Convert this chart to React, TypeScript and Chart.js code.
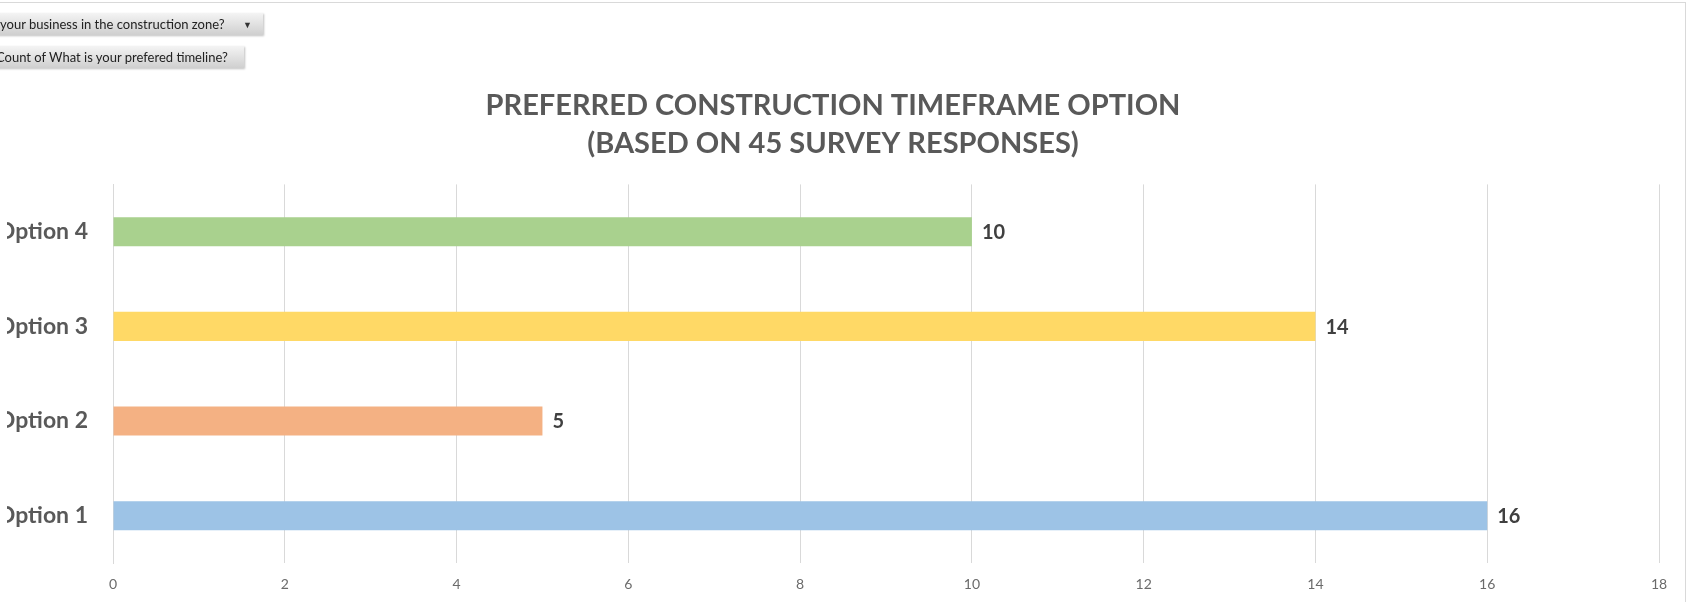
import React, { useEffect, useRef } from "react";
import { Chart, registerables } from "chart.js";

Chart.register(...registerables);

const categories = ["Option 1", "Option 2", "Option 3", "Option 4"];
const counts = [16, 5, 14, 10];
const barColors = ["#9DC3E6", "#F4B183", "#FFD966", "#A9D18E"];
const xTicks = [0, 2, 4, 6, 8, 10, 12, 14, 16, 18];
const titleLines = ["PREFERRED CONSTRUCTION TIMEFRAME OPTION", "(BASED ON 45 SURVEY RESPONSES)"];
const filterLabel = "your business in the construction zone?";
const valueLabel = "Count of What is your prefered timeline?";

const valueLabelPlugin = {
  id: "valueLabels",
  afterDatasetsDraw(chart: any) {
    const ctx = chart.ctx;
    const meta = chart.getDatasetMeta(0);
    ctx.save();
    ctx.font = "bold 20px Lato";
    ctx.fillStyle = "#404040";
    ctx.textAlign = "left";
    ctx.textBaseline = "middle";
    meta.data.forEach((bar: any, i: number) => {
      ctx.fillText(String(counts[i]), bar.x + 10, bar.y + 1);
    });
    ctx.restore();
  },
};

export default function App() {
  const ref = useRef<HTMLCanvasElement | null>(null);
  useEffect(() => {
    if (!ref.current) return;
    const chart = new Chart(ref.current, {
      type: "bar",
      data: {
        labels: categories,
        datasets: [
          {
            data: counts,
            backgroundColor: barColors,
            borderWidth: 0,
            categoryPercentage: 1,
            barPercentage: 0.307,
          },
        ],
      },
      options: {
        indexAxis: "y",
        animation: false,
        responsive: false,
        devicePixelRatio: 1,
        layout: { padding: { left: 7, right: 27, top: 0, bottom: 0 } },
        plugins: {
          legend: { display: false },
          tooltip: { enabled: false },
          title: {
            display: true,
            text: titleLines,
            color: "#595959",
            font: { family: "Lato", weight: "bold", size: 29, lineHeight: 1.3 },
            padding: { top: 87, bottom: 22 },
          },
        },
        scales: {
          x: {
            min: 0,
            max: 18,
            afterBuildTicks: (axis: any) => {
              axis.ticks = xTicks.map((v) => ({ value: v }));
            },
            afterFit: (axis: any) => {
              axis.height = 39;
            },
            grid: { color: "#D9D9D9", lineWidth: 1, drawTicks: false },
            border: { display: false },
            ticks: {
              color: "#6b6b6b",
              font: { family: "Lato", size: 14 },
              padding: 13,
            },
          },
          y: {
            reverse: true,
            afterFit: (axis: any) => {
              axis.width = 106;
            },
            grid: { display: false, drawTicks: false },
            border: { display: true, color: "#D9D9D9", width: 1 },
            ticks: {
              color: "#595959",
              font: { family: "Lato", weight: "bold", size: 23 },
              padding: 25,
            },
          },
        },
      },
      plugins: [valueLabelPlugin],
    });
    return () => chart.destroy();
  }, []);

  const btn: React.CSSProperties = {
    position: "absolute",
    height: 22,
    background: "linear-gradient(#f4f4f4, #cfcfcf)",
    boxShadow: "1px 1px 2px rgba(0,0,0,0.25)",
    fontFamily: "Lato, sans-serif",
    fontSize: 13,
    color: "#222",
    lineHeight: "23px",
    whiteSpace: "nowrap",
    boxSizing: "border-box",
  };

  return (
    <div
      style={{
        position: "fixed",
        left: 0,
        top: 0,
        width: 1686,
        height: 602,
        overflow: "hidden",
        background: "#fff",
      }}
    >
      <div
        style={{
          position: "absolute",
          left: 0,
          top: 2,
          width: 1686,
          height: 600,
          borderTop: "1px solid #D9D9D9",
          borderRight: "1px solid #D9D9D9",
          boxSizing: "border-box",
        }}
      />
      <canvas ref={ref} width={1686} height={602} style={{ position: "absolute", left: 0, top: 0 }} />
      <div style={{ ...btn, left: -4, top: 13, width: 267, paddingLeft: 4 }}>
        {filterLabel}
        <span style={{ position: "absolute", left: 247, top: 0, fontSize: 9, color: "#333" }}>▼</span>
      </div>
      <div style={{ ...btn, left: -4, top: 46, width: 248, paddingLeft: 0 }}>{valueLabel}</div>
    </div>
  );
}
